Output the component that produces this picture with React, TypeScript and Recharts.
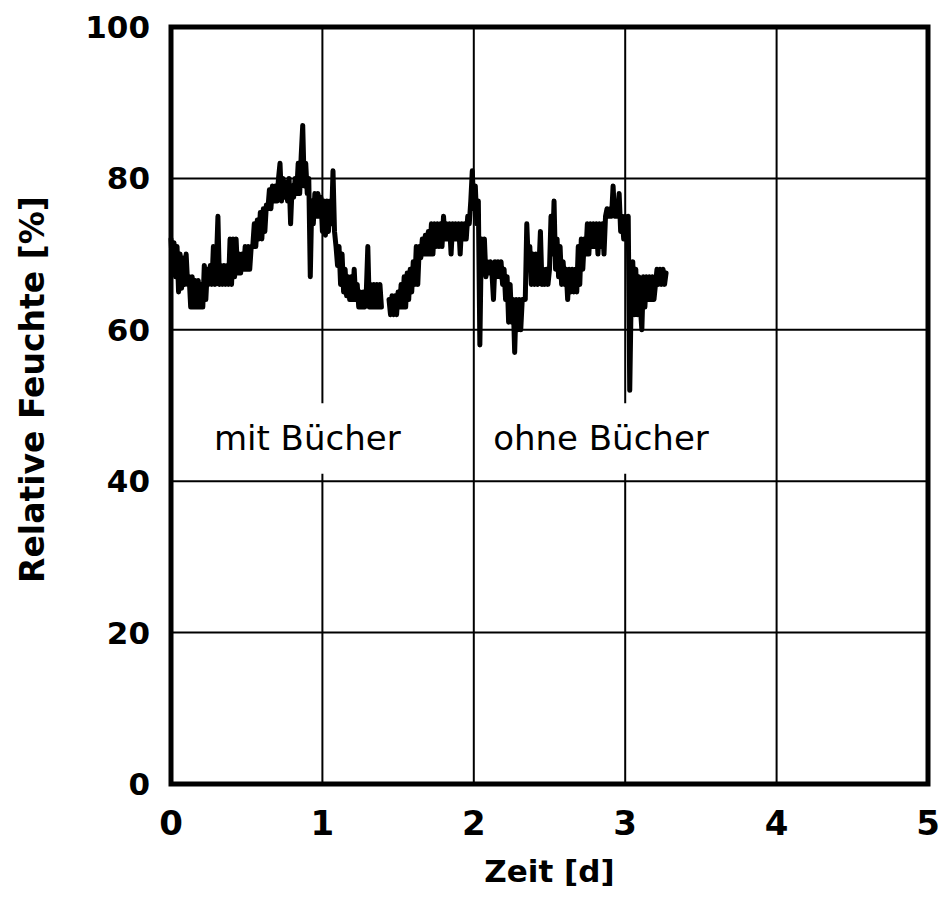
import React from 'react';
import { LineChart, Line, XAxis, YAxis, CartesianGrid, ReferenceArea, Label } from 'recharts';

const FONT = "'DejaVu Sans', 'Noto Sans', sans-serif";

const xTicks = [0, 1, 2, 3, 4, 5];
const yTicks = [0, 20, 40, 60, 80, 100];

// time in days
const days: number[] = [
  0.00, 0.01, 0.02, 0.03, 0.04, 0.05, 0.06, 0.07, 0.08, 0.09,
  0.10, 0.11, 0.12, 0.13, 0.14, 0.15, 0.16, 0.17, 0.18, 0.19,
  0.20, 0.21, 0.22, 0.23, 0.24, 0.25, 0.26, 0.27, 0.28, 0.29,
  0.30, 0.31, 0.32, 0.33, 0.34, 0.35, 0.36, 0.37, 0.38, 0.39,
  0.40, 0.41, 0.42, 0.43, 0.44, 0.45, 0.46, 0.47, 0.48, 0.49,
  0.50, 0.51, 0.52, 0.53, 0.54, 0.55, 0.56, 0.57, 0.58, 0.59,
  0.60, 0.61, 0.62, 0.63, 0.64, 0.65, 0.66, 0.67, 0.68, 0.69,
  0.70, 0.71, 0.72, 0.73, 0.74, 0.75, 0.76, 0.77, 0.78, 0.79,
  0.80, 0.81, 0.82, 0.83, 0.84, 0.85, 0.86, 0.87, 0.88, 0.89,
  0.90, 0.91, 0.92, 0.93, 0.94, 0.95, 0.96, 0.97, 0.98, 0.99,
  1.00, 1.01, 1.02, 1.03, 1.04, 1.05, 1.06, 1.07, 1.08, 1.09,
  1.10, 1.11, 1.12, 1.13, 1.14, 1.15, 1.16, 1.17, 1.18, 1.19,
  1.20, 1.21, 1.22, 1.23, 1.24, 1.25, 1.26, 1.27, 1.28, 1.29,
  1.30, 1.31, 1.32, 1.33, 1.34, 1.35, 1.36, 1.37, 1.38, 1.39,
  1.41,
  1.44, 1.45, 1.46, 1.47, 1.48, 1.49,
  1.50, 1.51, 1.52, 1.53, 1.54, 1.55, 1.56, 1.57, 1.58, 1.59,
  1.60, 1.61, 1.62, 1.63, 1.64, 1.65, 1.66, 1.67, 1.68, 1.69,
  1.70, 1.71, 1.72, 1.73, 1.74, 1.75, 1.76, 1.77, 1.78, 1.79,
  1.80, 1.81, 1.82, 1.83, 1.84, 1.85, 1.86, 1.87, 1.88, 1.89,
  1.90, 1.91, 1.92, 1.93, 1.94, 1.95, 1.96, 1.97, 1.98, 1.99,
  2.00, 2.01, 2.02, 2.03, 2.04, 2.05, 2.06, 2.07, 2.08, 2.09,
  2.10, 2.11, 2.12, 2.13, 2.14, 2.15, 2.16, 2.17, 2.18, 2.19,
  2.20, 2.21, 2.22, 2.23, 2.24, 2.25, 2.26, 2.27, 2.28, 2.29,
  2.30, 2.31, 2.32, 2.33, 2.34, 2.35, 2.36, 2.37, 2.38, 2.39,
  2.40, 2.41, 2.42, 2.43, 2.44, 2.45, 2.46, 2.47, 2.48, 2.49,
  2.50, 2.51, 2.52, 2.53, 2.54, 2.55, 2.56, 2.57, 2.58, 2.59,
  2.60, 2.61, 2.62, 2.63, 2.64, 2.65, 2.66, 2.67, 2.68, 2.69,
  2.70, 2.71, 2.72, 2.73, 2.74, 2.75, 2.76, 2.77, 2.78, 2.79,
  2.80, 2.81, 2.82, 2.83, 2.84, 2.85, 2.86, 2.87, 2.88, 2.89,
  2.90, 2.91, 2.92, 2.93, 2.94, 2.95, 2.96, 2.97, 2.98, 2.99,
  3.00, 3.01, 3.02, 3.03, 3.04, 3.05, 3.06, 3.07, 3.08, 3.09,
  3.10, 3.11, 3.12, 3.13, 3.14, 3.15, 3.16, 3.17, 3.18, 3.19,
  3.20, 3.21, 3.22, 3.23, 3.24, 3.25, 3.26, 3.27,
];

// relative humidity in %
const humidity: (number | null)[] = [
  72, 68, 71.5, 67, 71, 65, 70, 65.5, 69.5, 66,
  70, 66, 67, 63, 67, 63, 66.5, 63, 66.5, 63,
  66, 63, 68.5, 64, 68, 66, 68.5, 66, 71, 66,
  69, 75, 66, 68.5, 66, 68.5, 66, 68.5, 66, 72,
  66, 72, 67, 72, 67.5, 70, 67.5, 70, 68, 71,
  68, 71, 68, 71, 71, 74, 71, 74.5, 72, 75.5,
  72, 76, 73, 76.5, 76, 78.5, 76, 79, 77, 79,
  77, 80, 82, 77, 80, 77.5, 79.5, 77, 80, 74,
  79, 77.5, 80, 78, 82, 78, 83, 87, 79, 82,
  78, 80, 67, 77, 74, 78, 75, 78, 75, 77.5,
  73, 77, 72.5, 77, 73, 77, 74, 81, 73, 71,
  68.5, 71, 66, 70, 65, 68, 64.5, 67, 64, 67,
  64, 68, 64, 66, 63, 65, 63, 65, 63, 65,
  71, 63, 66, 63, 66, 63, 66, 63, 66, 63,
  null,
  64, 62, 64.5, 62, 64.5, 62,
  65, 63, 66, 63, 67, 63, 67.5, 64, 68, 65,
  69, 66, 71, 66, 71, 69.5, 72, 70, 72.5, 70,
  73, 70, 74, 70, 74, 71, 74, 71, 74, 71,
  75, 72, 74, 72, 74, 70, 74, 72, 74, 72,
  74, 70, 74, 72, 74, 72, 75, 74, 77, 81,
  76, 79, 74, 77, 58, 72, 68, 72, 67, 69,
  67.5, 69, 67.5, 64, 69, 67, 69, 67, 69, 66,
  68, 64, 67, 61, 66, 61, 64, 57, 64, 60,
  64, 60, 64, 64, 64, 74, 69, 71, 66, 70,
  66, 70, 66, 68, 73, 66, 68, 66, 68, 66,
  68, 75, 70, 77, 68, 72, 67, 71, 66, 69,
  66, 68, 64, 68, 65, 68, 65, 68, 65, 71,
  66, 72, 68, 72, 70, 74, 70, 74, 71, 74,
  71, 74, 70, 74, 71, 74, 70, 75, 76, 75,
  76, 75, 79, 75, 76, 75, 78, 73, 75, 72,
  75, 72, 75, 52, 65, 69, 62, 68, 62, 67,
  63, 60, 67, 63, 67, 64, 67, 64, 67, 64,
  66, 68, 66, 68, 66, 68, 66, 67.5,
];

const data = days.map((d, i) => ({ day: d, rh: humidity[i] }));

const renderYTitle = (props: any) => {
  const vb = props.viewBox || { x: 0, y: 27, width: 171, height: 757 };
  const x = vb.x + 44;
  const y = vb.y + vb.height / 2 - 16;
  return (
    <text
      x={x}
      y={y}
      transform={`rotate(-90 ${x} ${y})`}
      textAnchor="middle"
      fontSize={33}
      fontWeight={700}
      fill="#000"
      fontFamily={FONT}
    >
      Relative Feuchte [%]
    </text>
  );
};

export default function App() {
  return (
    <div
      style={{
        position: 'absolute',
        left: 0,
        top: 0,
        width: 946,
        height: 918,
        background: '#fff',
        fontFamily: FONT,
      }}
    >
      <LineChart
        width={946}
        height={918}
        data={data}
        margin={{ top: 27, right: 18, bottom: 0, left: 0 }}
      >
        <CartesianGrid stroke="#000" strokeWidth={2} />
        <XAxis
          type="number"
          dataKey="day"
          domain={[0, 5]}
          ticks={xTicks}
          interval={0}
          height={134}
          tickSize={0}
          tickMargin={27}
          axisLine={false}
          tickLine={false}
          tick={{ fontSize: 34, fontWeight: 700, fill: '#000', fontFamily: FONT }}
        >
          <Label
            value="Zeit [d]"
            position="insideBottom"
            offset={36}
            fontSize={31}
            fontWeight={700}
            fill="#000"
            fontFamily={FONT}
          />
        </XAxis>
        <YAxis
          type="number"
          domain={[0, 100]}
          ticks={yTicks}
          interval={0}
          width={171}
          tickSize={0}
          tickMargin={21}
          axisLine={false}
          tickLine={false}
          tick={{ fontSize: 31, fontWeight: 700, fill: '#000', fontFamily: FONT }}
        >
          <Label content={renderYTitle} />
        </YAxis>
        <ReferenceArea
          x1={0.22}
          x2={1.58}
          y1={41}
          y2={50.3}
          fill="#fff"
          fillOpacity={1}
          stroke="none"
          label={{ value: 'mit Bücher', position: 'center', fontSize: 34, fill: '#000', fontFamily: FONT }}
        />
        <ReferenceArea
          x1={2.03}
          x2={3.65}
          y1={41}
          y2={50.3}
          fill="#fff"
          fillOpacity={1}
          stroke="none"
          label={{ value: 'ohne Bücher', position: 'center', fontSize: 34, fill: '#000', fontFamily: FONT }}
        />
        <ReferenceArea x1={0} x2={5} y1={0} y2={100} fill="none" fillOpacity={0} stroke="#000" strokeWidth={5} />
        <Line
          type="linear"
          dataKey="rh"
          stroke="#000"
          strokeWidth={5}
          strokeLinejoin="round"
          strokeLinecap="round"
          dot={false}
          activeDot={false}
          connectNulls={false}
          isAnimationActive={false}
        />
      </LineChart>
    </div>
  );
}
